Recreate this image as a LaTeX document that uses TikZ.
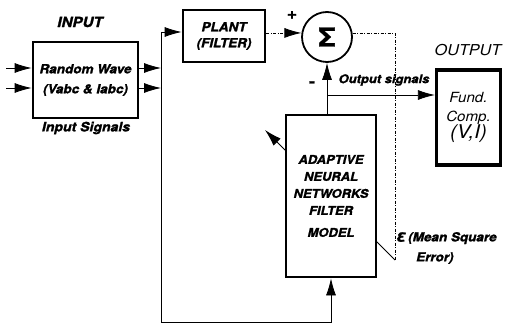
\documentclass[tikz,border=0pt]{standalone}
\usepackage{fontspec}
\setmainfont{TeX Gyre Heros}[FakeStretch=1.08, BoldFeatures={FakeBold=1.5}, BoldItalicFeatures={FakeBold=1.5}]
\usetikzlibrary{arrows.meta}
\tikzset{
  blk/.style={draw, line width=2.8pt, fill=white, inner sep=0pt, align=center,
    font=\bfseries\itshape\fontsize{12.5}{20}\selectfont},
  lbl/.style={inner sep=0pt, font=\bfseries\itshape\fontsize{13}{16}\selectfont},
  con/.style={line width=0.8pt},
  tip/.style={-{Latex[length=17pt,width=10pt]}},
  arr/.style={con, tip},
  dsh/.style={con, dash pattern=on 3pt off 1.5pt on 1pt off 1.5pt},
}
\begin{document}
\begin{tikzpicture}[x=1pt,y=-1pt]
\useasboundingbox[fill=white] (0,0) rectangle (508,326);
% coordinates
\coordinate (bt) at (161,32);
\coordinate (bb) at (161,322);
\coordinate (o1) at (161,68);
\coordinate (o2) at (161,88);
\coordinate (i1) at (6,68);
\coordinate (i2) at (6,88);
\coordinate (ec) at (395,33);
\coordinate (eb) at (395,260);
\coordinate (tp) at (265,130);
\coordinate (br) at (327,95);
% adaptation arrow (passes behind the ANN box)
\draw[arr] (eb) -- (tp);
% blocks
\node[blk, minimum width=105pt, minimum height=76pt] (rw) at (85.5,80) {Random Wave\\(Vabc \& Iabc)};
\node[blk, minimum width=82pt, minimum height=52pt, font=\bfseries\itshape\fontsize{12.5}{16}\selectfont] (plant) at (224,36) {PLANT\\(FILTER)};
\node[draw, circle, line width=1.8pt, minimum size=50pt, inner sep=0pt, fill=white,
  font=\bfseries\fontsize{26}{26}\selectfont] (sig) at (327,37) {Σ};
\node[blk, minimum width=90pt, minimum height=162pt, font=\bfseries\itshape\fontsize{12}{17}\selectfont] (ann) at (331,196)
  {ADAPTIVE\\NEURAL\\NETWORKS\\FILTER\\[5pt]MODEL};
\node[blk, line width=3.2pt, minimum width=64pt, minimum height=95pt,
  font=\itshape\fontsize{14}{19}\selectfont] (out) at (468.5,117.5)
  {Fund.\\Comp.\\[-2pt]{\fontsize{19}{19}\selectfont(V,I)}};
% labels
\node[lbl, font=\bfseries\itshape\fontsize{14}{16}\selectfont] (inlbl) at (80,22) {INPUT};
\node[lbl] (insig) at (86,128) {Input Signals};
\node[lbl, font=\itshape\fontsize{15}{16}\selectfont] (outlbl) at (468,50) {OUTPUT};
\node[lbl, font=\bfseries\fontsize{16}{16}\selectfont] (plus) at (292,15) {+};
\node[lbl, font=\bfseries\fontsize{16}{16}\selectfont] (minus) at (312,84) {-};
\node[lbl, font=\bfseries\itshape\fontsize{12}{16}\selectfont] (ossig) at (384,80) {Output signals};
\node[lbl, anchor=west, align=left, font=\bfseries\itshape\fontsize{12.5}{20}\selectfont] (mse) at (396,248)
  {{\fontsize{16}{16}\selectfont ε}\,(Mean Square\\\hspace*{20pt}Error)};
% connectors
\draw[arr] (i1) -- (i1 -| rw.west);
\draw[arr] (i2) -- (i2 -| rw.west);
\draw[arr] (rw.east |- o1) -- (o1);
\draw[arr] (rw.east |- o2) -- (o2);
\draw[con] (bt) -- (bb);
\draw[arr] (bt) -- (bt -| plant.west);
\draw[arr] (bb) -- (bb -| ann.south) -- (ann.south);
\draw[dsh, tip] (plant.east |- sig.171) -- (sig.171);
\draw[dsh] (sig.9) -- (sig.9 -| ec) -- (eb);
\draw[arr] (sig.south |- ann.north) -- (sig.south);
\draw[arr] (br) -- (br -| out.west);
\end{tikzpicture}
\end{document}
